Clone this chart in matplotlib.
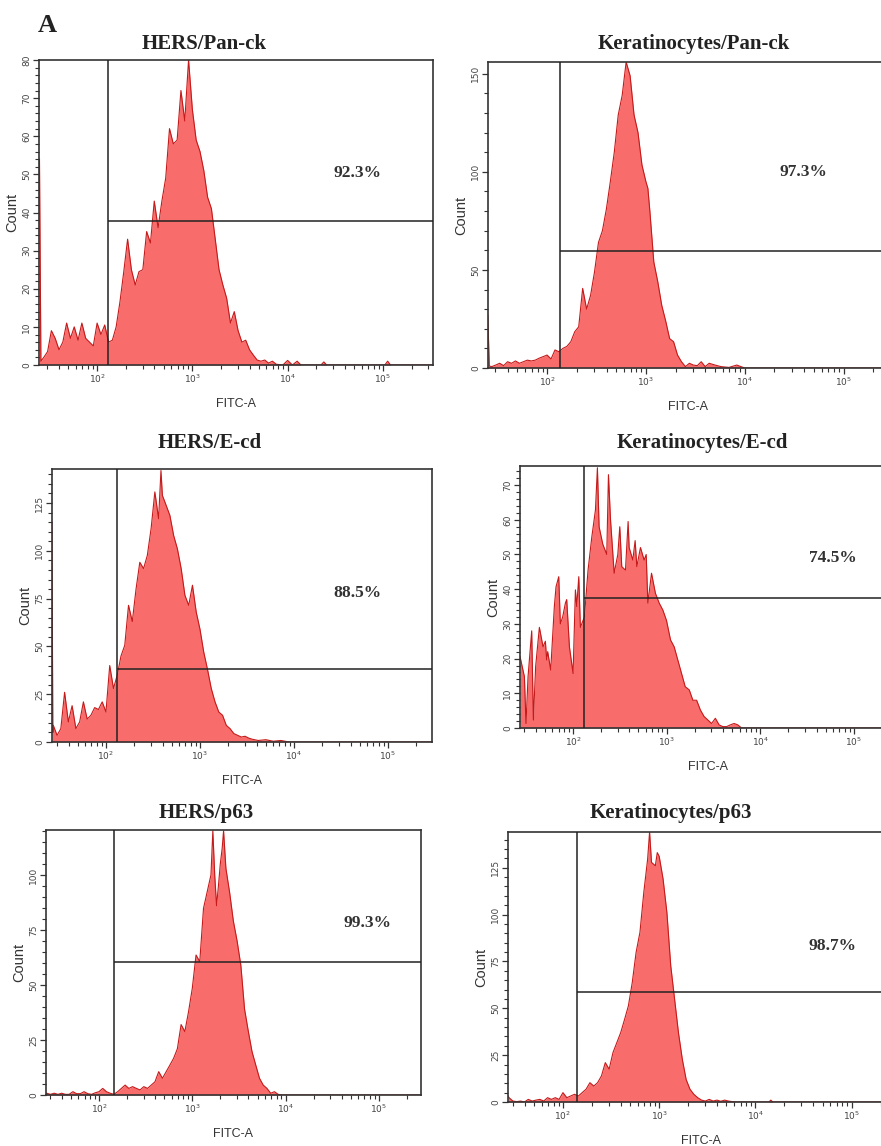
import numpy as np
import matplotlib.pyplot as plt
from matplotlib.ticker import FixedLocator, LogLocator, MultipleLocator, NullFormatter

# Flow cytometry histograms, FITC-A channel (log10 of intensity) vs. count

titles = ["HERS/Pan-ck", "Keratinocytes/Pan-ck", "HERS/E-cd",
          "Keratinocytes/E-cd", "HERS/p63", "Keratinocytes/p63"]
percents = ["92.3%", "97.3%", "88.5%", "74.5%", "99.3%", "98.7%"]

# gate: lower FITC bound (log10) and marker height (count)
gate_log = [2.115, 2.13, 2.12, 2.12, 2.16, 2.145]
gate_count = [37.8, 59.7, 38.0, 37.5, 60.4, 58.8]

hers_panck_log = [1.395, 1.41, 1.44, 1.48, 1.52, 1.56, 1.60, 1.64, 1.68, 1.72, 1.76, 1.80,
                  1.84, 1.88, 1.92, 1.96, 2.00, 2.04, 2.08, 2.12, 2.16, 2.20, 2.24, 2.28,
                  2.32, 2.36, 2.40, 2.44, 2.48, 2.52, 2.56, 2.60, 2.64, 2.68, 2.72, 2.76,
                  2.80, 2.84, 2.88, 2.92, 2.96, 3.00, 3.04, 3.08, 3.12, 3.16, 3.20, 3.24,
                  3.28, 3.32, 3.36, 3.40, 3.44, 3.48, 3.52, 3.56, 3.60, 3.64, 3.68, 3.72,
                  3.76, 3.80, 3.84, 3.88, 3.95, 4.00, 4.05, 4.10, 4.14, 4.35, 4.38, 4.41,
                  5.02, 5.05, 5.08, 5.52]
hers_panck_count = [54, 1, 2, 3.5, 9, 7, 4, 6, 11, 7, 10, 6.5,
                    11, 7, 6, 5, 11, 8, 10.5, 6, 6.5, 10, 16.6, 24.5,
                    33, 25, 21, 24.5, 25, 35, 32, 43, 36, 43, 49, 62,
                    58, 59, 72, 64, 80, 67, 59, 56, 51, 44, 41, 33,
                    25, 21, 17.5, 11, 14, 9, 6, 6.5, 4, 2.6, 1.3, 1,
                    1.3, 0.5, 1, 0.2, 0, 1.2, 0, 1, 0, 0, 0.8, 0,
                    0, 1, 0, 0]

kera_panck_log = [1.40, 1.415, 1.44, 1.48, 1.52, 1.56, 1.60, 1.64, 1.68, 1.72, 1.76, 1.80,
                  1.84, 1.88, 1.92, 1.96, 2.00, 2.04, 2.08, 2.12, 2.16, 2.20, 2.24, 2.28,
                  2.32, 2.36, 2.40, 2.44, 2.48, 2.52, 2.56, 2.60, 2.64, 2.68, 2.72, 2.76,
                  2.80, 2.84, 2.88, 2.92, 2.96, 3.00, 3.02, 3.04, 3.08, 3.12, 3.16, 3.20,
                  3.24, 3.28, 3.32, 3.36, 3.40, 3.44, 3.48, 3.52, 3.56, 3.60, 3.64, 3.70,
                  3.76, 3.84, 3.92, 4.00, 5.45]
kera_panck_count = [27, 1, 0.7, 1.5, 2.4, 1.2, 3.2, 2.4, 3.6, 2.4, 3.2, 4,
                    3.6, 4, 5, 5.8, 6.6, 4.6, 9.2, 8.3, 10, 11, 13.4, 18.5,
                    21, 40.6, 30, 37, 49, 64, 70, 81, 95, 110, 129, 139,
                    156, 149, 129, 120, 103.5, 95, 91.6, 80, 54, 44, 32, 24,
                    15, 13.4, 6.6, 3.2, 0.7, 2.4, 1.5, 1.2, 3.2, 0.7, 2.4, 1.5,
                    0.7, 0.3, 1.5, 0, 0]

hers_ecd_log = [1.425, 1.435, 1.44, 1.48, 1.52, 1.56, 1.60, 1.64, 1.68, 1.72, 1.76, 1.80,
                1.84, 1.88, 1.92, 1.96, 2.00, 2.04, 2.08, 2.12, 2.16, 2.20, 2.24, 2.28,
                2.32, 2.36, 2.40, 2.44, 2.48, 2.52, 2.56, 2.585, 2.60, 2.64, 2.68, 2.72,
                2.76, 2.80, 2.84, 2.88, 2.92, 2.96, 3.00, 3.04, 3.08, 3.12, 3.16, 3.20,
                3.24, 3.28, 3.32, 3.36, 3.40, 3.44, 3.48, 3.52, 3.56, 3.62, 3.70, 3.78,
                3.86, 3.95, 5.47]
hers_ecd_count = [115, 5, 8.7, 3.5, 7, 26, 10.5, 19, 7, 10.5, 21, 12,
                  14, 18, 17, 21, 15.7, 40, 28, 35, 45, 50.6, 71.5, 63,
                  80, 94, 90.7, 97.6, 111.6, 130.8, 116.8, 142, 129, 123.8, 118.5, 108,
                  101, 90.7, 76.7, 71.5, 82, 68, 59, 47, 38, 28, 21, 15.7,
                  14, 8.7, 7, 4.4, 3.5, 2.6, 3, 2, 1.4, 0.8, 1.2, 0.4,
                  0.8, 0, 0]

kera_ecd_log = [1.433, 1.48, 1.497, 1.519, 1.558, 1.576, 1.60, 1.64, 1.679, 1.704, 1.718,
                1.729, 1.761, 1.80, 1.818, 1.847, 1.864, 1.889, 1.918, 1.932, 1.961, 2.00,
                2.025, 2.039, 2.061, 2.078, 2.121, 2.16, 2.20, 2.239, 2.26, 2.278, 2.317,
                2.36, 2.378, 2.40, 2.439, 2.478, 2.499, 2.52, 2.56, 2.588, 2.599, 2.638,
                2.663, 2.681, 2.72, 2.759, 2.781, 2.799, 2.838, 2.88, 2.92, 2.959, 2.998,
                3.041, 3.08, 3.119, 3.159, 3.198, 3.241, 3.28, 3.32, 3.36, 3.40, 3.44,
                3.48, 3.52, 3.56, 3.60, 3.64, 3.68, 3.72, 3.76, 3.80, 5.45]
kera_ecd_count = [20.6, 14.8, 1.3, 14.8, 28, 2.3, 17.7, 29, 23.4, 25, 19.6,
                  22, 16.7, 35, 40.7, 43.6, 30, 32, 36, 37, 23.4, 15.7,
                  39.8, 35, 43.6, 29, 32, 45.5, 55, 62.8, 75, 58, 53,
                  50, 73, 60, 44.6, 50, 58, 46.5, 45.5, 59.5, 52, 48.4,
                  54, 46.5, 52, 48.4, 50, 36, 44.6, 38.8, 36, 34, 31,
                  25.4, 23.4, 19.6, 15.7, 11.9, 11, 8, 8, 5.2, 3.3, 2.3,
                  1.3, 2.8, 0.9, 0.4, 0.4, 0.9, 1.3, 0.9, 0, 0]

hers_p63_log = [1.43, 1.44, 1.48, 1.52, 1.56, 1.60, 1.64, 1.68, 1.72, 1.76, 1.80, 1.84,
                1.88, 1.92, 1.96, 2.00, 2.04, 2.08, 2.12, 2.16, 2.20, 2.24, 2.28, 2.32,
                2.36, 2.40, 2.44, 2.48, 2.52, 2.56, 2.60, 2.64, 2.68, 2.72, 2.76, 2.80,
                2.84, 2.88, 2.92, 2.96, 3.00, 3.04, 3.08, 3.12, 3.16, 3.20, 3.22, 3.24,
                3.26, 3.28, 3.30, 3.32, 3.335, 3.36, 3.40, 3.44, 3.48, 3.52, 3.56, 3.60,
                3.64, 3.68, 3.72, 3.76, 3.80, 3.84, 3.88, 3.92, 3.96, 5.45]
hers_p63_count = [0.5, 0.8, 0.3, 0.8, 0.3, 0.8, 0.3, 0.3, 1.5, 0.6, 0.6, 1.5,
                  0.6, 0.3, 1, 1.5, 3, 1.5, 0.8, 0.3, 1.5, 3, 4.5, 3,
                  3.8, 3, 2.3, 3.8, 3, 4.5, 6, 10.6, 7.6, 10.6, 13.6, 16.7,
                  21, 32, 28.8, 37.9, 48.5, 63.6, 60.6, 84.8, 92.4, 100, 120, 100,
                  86, 95, 105, 112, 120, 103, 92, 79, 70, 59, 39, 29,
                  19.7, 13.6, 7.6, 4.5, 3, 0.8, 1.5, 0.3, 0, 0]

kera_p63_log = [1.43, 1.44, 1.48, 1.52, 1.56, 1.60, 1.64, 1.68, 1.72, 1.76, 1.80, 1.84,
                1.88, 1.92, 1.96, 2.00, 2.04, 2.08, 2.12, 2.16, 2.20, 2.24, 2.28, 2.32,
                2.36, 2.40, 2.44, 2.48, 2.52, 2.56, 2.60, 2.64, 2.68, 2.72, 2.76, 2.80,
                2.84, 2.88, 2.90, 2.92, 2.96, 2.98, 3.00, 3.04, 3.08, 3.12, 3.16, 3.20,
                3.24, 3.28, 3.32, 3.36, 3.40, 3.44, 3.48, 3.52, 3.56, 3.60, 3.64, 3.68,
                3.72, 3.76, 3.80, 4.14, 4.16, 4.18, 5.45]
kera_p63_count = [3.2, 2.3, 0.5, 0.2, 0.5, 0, 1.4, 0.5, 1, 1.4, 0.5, 2.3,
                  1.4, 2.3, 1.4, 5, 2.3, 3.2, 4.1, 3.2, 5, 6.8, 10.3, 8.5,
                  10.3, 13.9, 21, 17.5, 26.4, 31.7, 37, 44, 51.3, 63.7, 79.8, 90.5,
                  111.8, 129.6, 144, 127.8, 126, 133, 131, 119, 101, 72.6, 54.8, 37,
                  22.8, 12, 6.8, 4.1, 2.3, 1, 0.5, 1.4, 0.5, 1, 0.4, 1,
                  0.5, 0.2, 0, 0, 1, 0, 0]

series_log = [hers_panck_log, kera_panck_log, hers_ecd_log,
              kera_ecd_log, hers_p63_log, kera_p63_log]
series_count = [hers_panck_count, kera_panck_count, hers_ecd_count,
                kera_ecd_count, hers_p63_count, kera_p63_count]

# layout (pixels in the 881x1146 image) -------------------------------------
W, H = 881, 1146
boxes = [(39, 60, 433, 365), (488, 62, 888, 368),
         (52, 469, 432, 742), (520, 466, 896, 728),
         (46, 830, 421, 1095), (508, 832, 895, 1102)]
xlims = [(1.39, 5.526), (1.402, 5.45), (1.426, 5.468),
         (1.433, 5.45), (1.432, 5.451), (1.429, 5.45)]
ymaxs = [80, 156, 142.8, 75.5, 120.4, 144]
ymajor = [10, 50, 25, 10, 25, 25]
yminor = [2, 10, 5, 2, 5, 5]
pct_pos = [(4.73, 50.4), (4.59, 100), (4.68, 78), (4.78, 49), (4.88, 78), (4.80, 83)]
title_pos = [(204, 44), (694, 44), (210, 443), (702, 443), (206, 813), (671, 813)]

fill_col = '#f86c6c'
edge_col = '#c41a1a'
axis_col = '#333333'

fig = plt.figure(figsize=(W / 100, H / 100), dpi=100)

for i in range(6):
    l, t, r, b = boxes[i]
    ax = fig.add_axes([l / W, 1 - b / H, (r - l) / W, (b - t) / H])
    x = 10 ** np.array(series_log[i])
    y = np.array(series_count[i])
    ax.fill_between(x, y, 0, color=fill_col, lw=0, zorder=1)
    ax.plot(x, y, color=edge_col, lw=0.8, zorder=2)

    ax.set_xscale('log')
    ax.set_xlim(10 ** xlims[i][0], 10 ** xlims[i][1])
    ax.set_ylim(0, ymaxs[i])

    # gate marker
    g = 10 ** gate_log[i]
    ax.axvline(g, color='#222222', lw=1.1, zorder=3)
    ax.hlines(gate_count[i], g, 10 ** xlims[i][1], color='#222222', lw=1.1, zorder=3)

    px, py = pct_pos[i]
    ax.text(10 ** px, py, percents[i], ha='center', va='center', fontsize=12.5,
            fontfamily='Liberation Serif', fontweight='bold', color='#333333')

    ax.xaxis.set_major_locator(FixedLocator([1e2, 1e3, 1e4, 1e5]))
    ax.xaxis.set_minor_locator(LogLocator(base=10, subs=np.arange(2, 10), numticks=20))
    ax.xaxis.set_minor_formatter(NullFormatter())
    ax.set_xticklabels([r'$10^{2}$', r'$10^{3}$', r'$10^{4}$', r'$10^{5}$'])
    ax.yaxis.set_major_locator(MultipleLocator(ymajor[i]))
    ax.yaxis.set_minor_locator(MultipleLocator(yminor[i]))
    for lab in ax.get_yticklabels():
        lab.set_rotation(90)
        lab.set_va('center')

    ax.tick_params(which='major', direction='out', length=4, width=0.9,
                   color=axis_col, labelsize=6.5, labelcolor='#444444', pad=1.5)
    ax.tick_params(which='minor', direction='out', length=3, width=0.8, color=axis_col)
    for s in ax.spines.values():
        s.set_color(axis_col)
        s.set_linewidth(1.2)

    ax.set_ylabel('Count', fontsize=10.5, fontfamily='Liberation Sans', color='#333333', labelpad=2)
    ax.set_xlabel('FITC-A', fontsize=9, fontfamily='Liberation Sans', color='#333333', labelpad=9)

    tx, ty = title_pos[i]
    fig.text(tx / W, 1 - ty / H, titles[i], ha='center', va='center', fontsize=15,
             fontfamily='Liberation Serif', fontweight='bold', color='#222222')

fig.text(47 / W, 1 - 25 / H, 'A', ha='center', va='center', fontsize=19,
         fontfamily='Liberation Serif', fontweight='bold', color='#222222')

fig.savefig('out.png', dpi=100, facecolor='white')
